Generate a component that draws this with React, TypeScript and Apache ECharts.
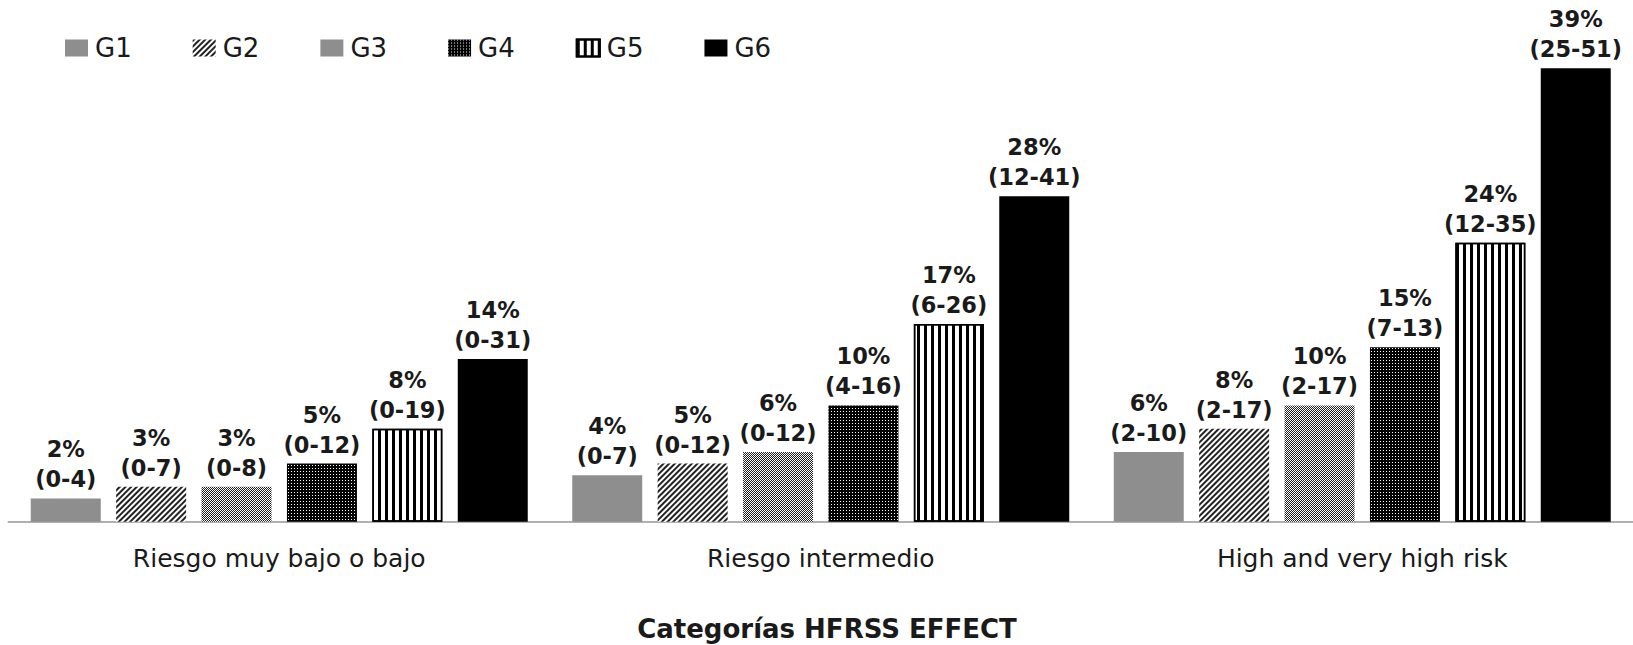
import React, { useEffect, useRef } from "react";
import * as echarts from "echarts";

const categories = ["Riesgo muy bajo o bajo", "Riesgo intermedio", "High and very high risk"];
const seriesNames = ["G1", "G2", "G3", "G4", "G5", "G6"];
const g1 = [2, 4, 6];
const g2 = [3, 5, 8];
const g3 = [3, 6, 10];
const g4 = [5, 10, 15];
const g5 = [8, 17, 24];
const g6 = [14, 28, 39];
const g1Ci = ["0-4", "0-7", "2-10"];
const g2Ci = ["0-7", "0-12", "2-17"];
const g3Ci = ["0-8", "0-12", "2-17"];
const g4Ci = ["0-12", "4-16", "7-13"];
const g5Ci = ["0-19", "6-26", "12-35"];
const g6Ci = ["0-31", "12-41", "25-51"];
const axisTitle = "Categorías HFRSS EFFECT";

const values = [g1, g2, g3, g4, g5, g6];
const cis = [g1Ci, g2Ci, g3Ci, g4Ci, g5Ci, g6Ci];

const styles: any[] = [
  { color: "#8e8e8e" },
  {
    color: "#ffffff",
    decal: {
      symbol: "rect",
      symbolSize: 1,
      color: "#222222",
      backgroundColor: "#ffffff",
      dashArrayX: [1, 0],
      dashArrayY: [1.6, 1.8],
      rotation: -Math.PI / 4,
    },
  },
  {
    color: "#ffffff",
    decal: {
      symbol: "rect",
      symbolSize: 1,
      color: "#1e1e1e",
      backgroundColor: "#ffffff",
      dashArrayX: [[1, 1], [0, 1, 1, 0]],
      dashArrayY: [1, 0],
      rotation: 0,
    },
  },
  {
    color: "#000000",
    decal: {
      symbol: "rect",
      symbolSize: 1,
      color: "#ffffff",
      backgroundColor: "#000000",
      dashArrayX: [1, 2],
      dashArrayY: [1, 2],
      rotation: 0,
    },
  },
  {
    color: "#ffffff",
    borderColor: "#000000",
    borderWidth: 1.5,
    decal: {
      symbol: "rect",
      symbolSize: 1,
      color: "#000000",
      backgroundColor: "#ffffff",
      dashArrayX: [3, 4],
      dashArrayY: [1, 0],
      rotation: 0,
    },
  },
  { color: "#000000" },
];

export default function App() {
  const ref = useRef<HTMLDivElement>(null);
  useEffect(() => {
    if (!ref.current) return;
    const chart = echarts.init(ref.current, null, { renderer: "svg" });
    const series = seriesNames.map((name, i) => ({
      name,
      type: "bar",
      data: values[i],
      barWidth: 70,
      barGap: "22%",
      itemStyle: styles[i],
      label: {
        show: true,
        position: "top",
        distance: 4,
        formatter: (p: any) => `${p.value}%\n(${cis[i][p.dataIndex]})`,
        fontFamily: "DejaVu Sans",
        fontWeight: "bold",
        fontSize: 22.5,
        lineHeight: 30,
        color: "#1a1a1a",
      },
    }));
    chart.setOption({
      animation: false,
      backgroundColor: "#ffffff",
      legend: {
        data: seriesNames,
        left: 60,
        top: 30,
        icon: "rect",
        itemWidth: 23,
        itemHeight: 17,
        itemGap: 61,
        textStyle: {
          fontFamily: "DejaVu Sans",
          fontSize: 26,
          color: "#1a1a1a",
          padding: [6, 0, 0, 2],
        },
      },
      grid: { left: 8.5, right: -12, top: 56.7, bottom: 123.3, containLabel: false },
      xAxis: {
        type: "category",
        data: categories,
        axisLine: { show: true, lineStyle: { color: "#b0b0b0", width: 2 } },
        axisTick: { show: false },
        axisLabel: {
          margin: 24,
          fontFamily: "DejaVu Sans",
          fontSize: 25,
          color: "#1a1a1a",
        },
      },
      yAxis: {
        type: "value",
        min: 0,
        max: 40,
        show: false,
        splitLine: { show: false },
      },
      graphic: [
        {
          type: "text",
          x: 827,
          y: 629,
          style: {
            text: axisTitle,
            textAlign: "center",
            textVerticalAlign: "middle",
            fontFamily: "DejaVu Sans",
            fontWeight: "bold",
            fontSize: 26,
            fill: "#1a1a1a",
          },
        },
      ],
      series,
    });
    return () => chart.dispose();
  }, []);
  return (
    <div
      ref={ref}
      style={{ position: "absolute", left: 0, top: 0, width: 1633, height: 645 }}
    />
  );
}
